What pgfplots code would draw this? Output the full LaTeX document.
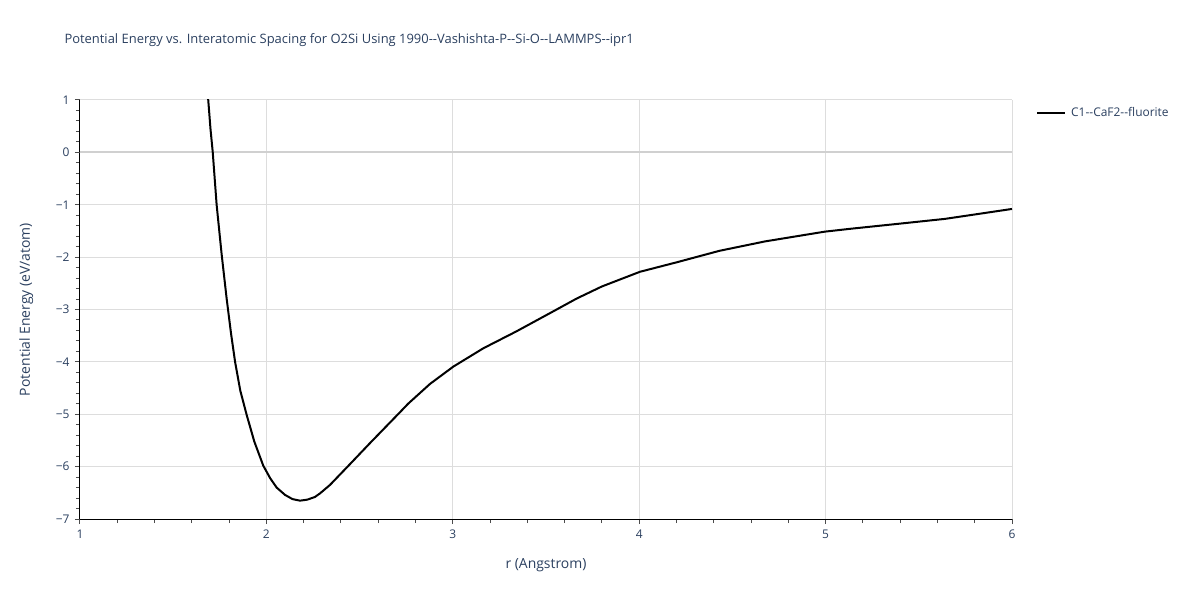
\documentclass[border=0pt]{standalone}
\usepackage{pgfplots}
\pgfplotsset{compat=1.18}
\usepackage{fontspec}
\setmainfont{Open Sans}[Ligatures=TeXOff]
\definecolor{plotlytext}{HTML}{2A3F5F}
\definecolor{gridgray}{HTML}{DDDDDD}
\definecolor{zerogray}{HTML}{D0D0D0}

\pgfplotstableread{
r E
1.680 1.25
1.688 1.00
1.700 0.45
1.712 0.01
1.733 -1.00
1.760 -1.95
1.787 -2.80
1.810 -3.45
1.832 -4.00
1.860 -4.55
1.894 -5.01
1.935 -5.52
1.983 -5.98
2.020 -6.22
2.055 -6.40
2.100 -6.54
2.140 -6.62
2.180 -6.65
2.220 -6.63
2.260 -6.58
2.288 -6.51
2.341 -6.35
2.449 -5.95
2.556 -5.55
2.717 -4.96
2.760 -4.80
2.878 -4.42
3.003 -4.09
3.164 -3.74
3.340 -3.42
3.521 -3.07
3.665 -2.79
3.800 -2.56
4.004 -2.28
4.200 -2.10
4.430 -1.88
4.675 -1.70
4.995 -1.514
5.130 -1.46
5.400 -1.36
5.640 -1.27
5.830 -1.17
6.000 -1.08
}\energy

\begin{document}
\begin{tikzpicture}
	\begin{axis}[
		scale only axis,
		width=932bp, height=419bp,
		xmin=1, xmax=6, ymin=-7, ymax=1,
		axis x line*=bottom, axis y line*=left,
		axis line style={black, line width=1bp, -},
		xtick={1,2,3,4,5,6},
		ytick={-7,-6,-5,-4,-3,-2,-1,0,1},
		yticklabels={−7,−6,−5,−4,−3,−2,−1,0,1},
		minor x tick num=4, minor y tick num=4,
		tick align=outside,
		major tick length=5bp, minor tick length=4bp,
		tick style={black!70, line width=1bp},
		grid=major,
		grid style={gridgray, line width=1bp},
		extra y ticks={0},
		extra y tick labels={},
		extra y tick style={grid style={zerogray, line width=2bp}},
		ticklabel style={font=\fontsize{12}{14}\selectfont, text=plotlytext},
		/pgf/number format/assume math mode=true,
		xticklabel style={yshift=-2bp},
		yticklabel style={xshift=-2bp},
		title={Potential Energy vs. Interatomic Spacing for O2Si Using 1990--Vashishta-P--Si-O--LAMMPS--ipr1},
		title style={at={(0,1)}, anchor=base west, xshift=-19bp, yshift=51bp,
			font=\fontsize{13}{15}\selectfont, text=plotlytext},
		xlabel={r (Angstrom)},
		xlabel style={at={(0.5,0)}, anchor=base, yshift=-49bp,
			font=\fontsize{14}{17}\selectfont, text=plotlytext},
		ylabel={Potential Energy (eV/atom)},
		ylabel style={at={(0,0.5)}, anchor=base, yshift=50bp,
			font=\fontsize{14}{17}\selectfont, text=plotlytext},
		legend style={at={(1,1)}, anchor=north west, xshift=21bp, yshift=-3bp,
			draw=none, fill=none, font=\fontsize{12}{14}\selectfont, text=plotlytext,
			nodes={inner xsep=5bp}},
		legend image code/.code={\draw[#1] (0bp,0bp) -- (28bp,0bp);},
		legend cell align=left,
	]
		\addplot[black, line width=2bp] table[x=r, y=E] {\energy};
		\addlegendentry{C1--CaF2--fluorite}
	\end{axis}
	\path (current axis.south west) ++(-80bp,-81bp) rectangle ++(1200bp,600bp);
\end{tikzpicture}
\end{document}
